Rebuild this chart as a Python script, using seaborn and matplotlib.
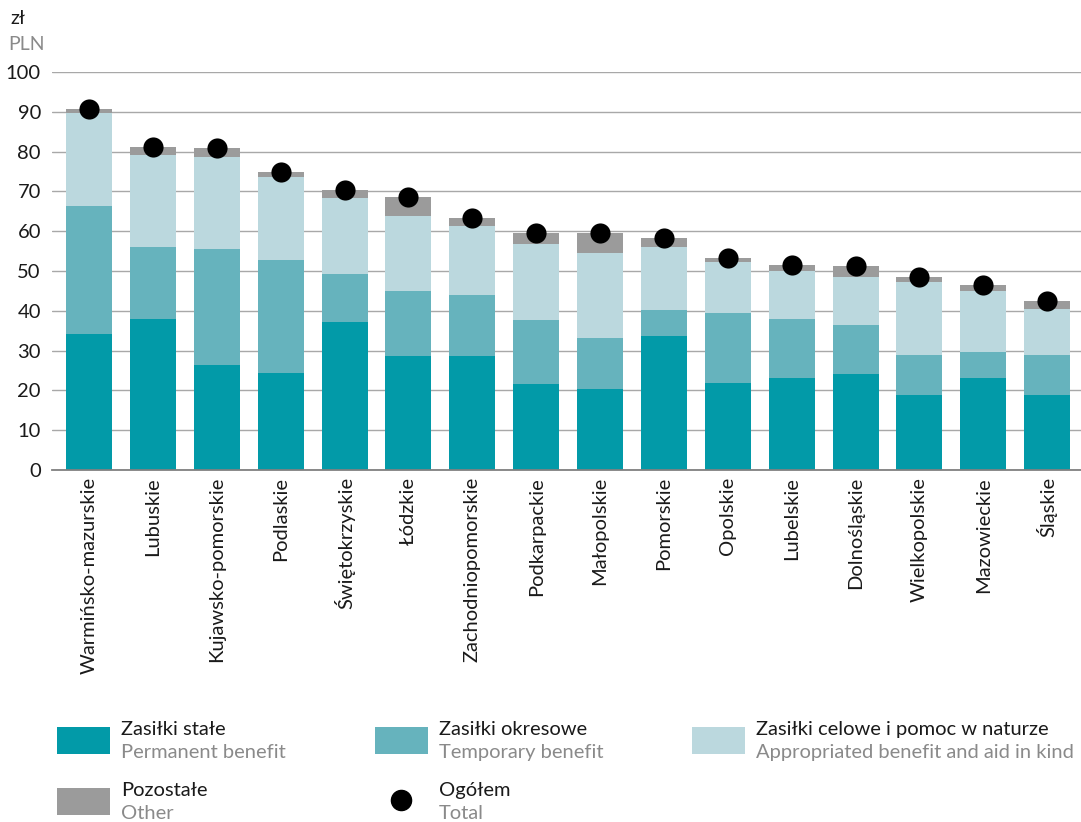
import numpy as np
import pandas as pd
import matplotlib
matplotlib.use("Agg")
import matplotlib.pyplot as plt
import seaborn as sns
from matplotlib.patches import Rectangle
from matplotlib.lines import Line2D

regions = ["Warmińsko-mazurskie", "Lubuskie", "Kujawsko-pomorskie", "Podlaskie",
           "Świętokrzyskie", "Łódzkie", "Zachodniopomorskie", "Podkarpackie",
           "Małopolskie", "Pomorskie", "Opolskie", "Lubelskie", "Dolnośląskie",
           "Wielkopolskie", "Mazowieckie", "Śląskie"]
permanent = [34.1, 37.9, 26.4, 24.4, 37.2, 28.6, 28.6, 21.6, 20.4, 33.7, 21.9, 23.1, 24.1, 18.8, 23.1, 18.8]
temporary = [32.2, 18.1, 29.1, 28.3, 12.0, 16.4, 15.4, 16.1, 12.8, 6.5, 17.5, 14.8, 12.3, 10.1, 6.5, 10.1]
appropriated = [23.4, 23.1, 23.1, 20.9, 19.2, 18.8, 17.3, 19.1, 21.3, 15.8, 12.9, 12.1, 12.1, 18.3, 15.4, 11.6]
other = [1.1, 2.0, 2.2, 1.2, 1.9, 4.8, 2.0, 2.7, 5.0, 2.3, 1.0, 1.5, 2.8, 1.3, 1.5, 2.0]
total = [90.8, 81.1, 80.8, 74.8, 70.3, 68.6, 63.3, 59.5, 59.5, 58.3, 53.3, 51.5, 51.3, 48.5, 46.5, 42.5]

c_perm = "#029AA8"
c_temp = "#66B3BD"
c_appr = "#BBD8DE"
c_oth = "#9B9B9B"

sns.set_theme(style="white")
plt.rcParams['font.family'] = ['Lato', 'DejaVu Sans']

df = pd.DataFrame({"region": regions})
df["l1"] = np.array(permanent)
df["l2"] = df["l1"] + np.array(temporary)
df["l3"] = df["l2"] + np.array(appropriated)
df["l4"] = df["l3"] + np.array(other)
df["total"] = total

fig = plt.figure(figsize=(10.81, 8.22), dpi=100)
ax = fig.add_axes([52/1081, (822-470)/822, 1 - 52/1081, (470-72)/822])

for col, color in [("l4", c_oth), ("l3", c_appr), ("l2", c_temp), ("l1", c_perm)]:
    sns.barplot(data=df, x="region", y=col, color=color, width=0.72,
                saturation=1, ax=ax, zorder=2, linewidth=0)
sns.stripplot(data=df, x="region", y="total", color="black", size=14.5,
              jitter=False, ax=ax, zorder=4, linewidth=0)

ax.set_ylim(0, 100)
ax.set_xlim(-0.58, 15.53)
ax.set_yticks(np.arange(0, 101, 10))
ax.yaxis.grid(True, color="#A8A8A8", linewidth=1.0, zorder=0)
ax.set_axisbelow(True)
for s in ["top", "right", "left"]:
    ax.spines[s].set_visible(False)
ax.spines["bottom"].set_color("#808080")
ax.spines["bottom"].set_linewidth(1.3)
ax.set_xlabel("")
ax.set_ylabel("")
ax.tick_params(axis="y", length=0, pad=8, labelsize=14.5, labelcolor="#1a1a1a")
ax.tick_params(axis="x", length=0, pad=5, labelsize=14.5, labelcolor="#1a1a1a")
plt.setp(ax.get_xticklabels(), rotation=90, ha="center", va="top")

fig.text(10/1081, 1 - 18/822, "zł", fontsize=14, color="#1a1a1a", va="center", ha="left")
fig.text(8/1081, 1 - 44/822, "PLN", fontsize=14, color="#8a8a8a", va="center", ha="left")

def px(x, y):
    return x / 1081, 1 - y / 822

legend_items = [
    (57, 727, "patch", c_perm, "Zasiłki stałe", "Permanent benefit"),
    (375, 727, "patch", c_temp, "Zasiłki okresowe", "Temporary benefit"),
    (692, 727, "patch", c_appr, "Zasiłki celowe i pomoc w naturze", "Appropriated benefit and aid in kind"),
    (57, 788, "patch", c_oth, "Pozostałe", "Other"),
    (375, 788, "dot", "black", "Ogółem", "Total"),
]
for x, y, kind, color, t1, t2 in legend_items:
    if kind == "patch":
        x0, y0 = px(x, y + 27)
        fig.patches.append(Rectangle((x0, y0), 53 / 1081, 27 / 822, transform=fig.transFigure,
                                     facecolor=color, edgecolor="none"))
    else:
        cx, cy = px(401, y + 12)
        fig.lines.append(Line2D([cx], [cy], marker="o", markersize=14.5, color="black",
                                linestyle="none", transform=fig.transFigure))
    tx, ty1 = px(x + 64, y + 2)
    _, ty2 = px(x + 64, y + 25)
    fig.text(tx, ty1, t1, fontsize=14.5, color="#1a1a1a", va="center", ha="left")
    fig.text(tx, ty2, t2, fontsize=14.5, color="#8a8a8a", va="center", ha="left")

fig.savefig("out.png", dpi=100)
